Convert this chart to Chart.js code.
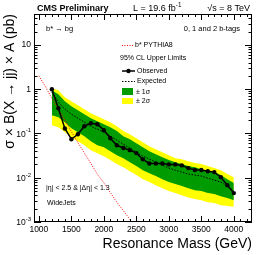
<!DOCTYPE html>
<html>
<head>
<meta charset="utf-8">
<script src="https://cdn.jsdelivr.net/npm/chart.js@4.4.0/dist/chart.umd.min.js"></script>
<style>
  html, body { margin: 0; padding: 0; background: #fff; }
  #wrap { width: 266px; height: 255px; position: relative; }
</style>
</head>
<body>
<div id="wrap"><canvas id="limitChart" width="266" height="255"></canvas></div>
<script>
// resonance masses (GeV)
var masses = [1200, 1300, 1400, 1500, 1600, 1700, 1800, 1900, 2000, 2100, 2200, 2300, 2400, 2500,
  2600, 2700, 2800, 2900, 3000, 3100, 3200, 3300, 3400, 3500, 3600, 3700, 3800, 3900, 4000];

// observed 95% CL limit (pb)
var observed = [1.0, 0.37, 0.13, 0.074, 0.096, 0.146, 0.17, 0.162, 0.119, 0.078, 0.054, 0.047, 0.042, 0.036,
  0.026, 0.021, 0.021, 0.021, 0.020, 0.020, 0.019, 0.0165, 0.0149, 0.0149, 0.014, 0.0134, 0.0103, 0.0068, 0.0045];

// expected limit and bands (pb)
var expected = [0.856, 0.509, 0.354, 0.273, 0.222, 0.180, 0.146, 0.125, 0.107, 0.0869, 0.0706, 0.0573, 0.0466, 0.0378,
  0.0307, 0.0263, 0.0225, 0.0192, 0.0165, 0.0148, 0.0134, 0.0121, 0.0115, 0.0109, 0.0098, 0.0088, 0.0080, 0.0065, 0.0050];
var oneSigmaUp = [0.95, 0.771, 0.536, 0.413, 0.336, 0.273, 0.222, 0.190, 0.162, 0.139, 0.113, 0.0869, 0.0744, 0.0604,
  0.0491, 0.0398, 0.0341, 0.0292, 0.0250, 0.0225, 0.0203, 0.0183, 0.0173, 0.0156, 0.0141, 0.0134, 0.0115, 0.0093, 0.0076];
var oneSigmaDown = [0.259, 0.233, 0.180, 0.132, 0.107, 0.0869, 0.0670, 0.0544, 0.0491, 0.0398, 0.0324, 0.0277, 0.0225, 0.0183,
  0.0148, 0.0127, 0.0109, 0.0093, 0.0080, 0.0072, 0.0065, 0.0058, 0.0052, 0.0050, 0.0045, 0.0043, 0.0038, 0.0035, 0.0031];
var twoSigmaUp = [1.05, 0.95, 0.66, 0.536, 0.435, 0.354, 0.287, 0.246, 0.210, 0.180, 0.146, 0.113, 0.0964, 0.0783,
  0.0636, 0.0517, 0.0442, 0.0378, 0.0324, 0.0277, 0.0263, 0.0237, 0.0214, 0.0203, 0.0183, 0.0165, 0.0148, 0.0121, 0.0103];
var twoSigmaDown = [0.154, 0.139, 0.107, 0.0825, 0.0670, 0.0544, 0.0420, 0.0359, 0.0307, 0.0250, 0.0203, 0.0173, 0.0141, 0.0115,
  0.0093, 0.0080, 0.0068, 0.0058, 0.0050, 0.0045, 0.0040, 0.0036, 0.0033, 0.0031, 0.0028, 0.0027, 0.0024, 0.0023, 0.0022];

// b* PYTHIA8 theory cross section
var theoryMasses = [1000, 1100, 1200, 1300, 1400, 1500, 1600, 1700, 1800, 1900, 2000, 2100, 2200, 2300, 2400, 2500];
var theoryXsec = [2.0, 1.15, 0.62, 0.36, 0.20, 0.11, 0.063, 0.036, 0.021, 0.012, 0.0077, 0.0046, 0.0028, 0.0018, 0.00115, 0.00072];

// axis ticks
var xMajorTicks = [1000, 1500, 2000, 2500, 3000, 3500, 4000];
var yDecades = [-3, -2, -1, 0, 1];

var FONT = '"Liberation Sans", Arial, Helvetica, sans-serif';

function pts(xs, ys) {
    return xs.map(function (x, i) { return { x: x, y: ys[i] }; });
}

function supText(ctx, base, sup, x, y, align, size) {
    ctx.font = size + 'px ' + FONT;
    var wb = ctx.measureText(base).width;
    ctx.font = (size * 0.7) + 'px ' + FONT;
    var ws = ctx.measureText(sup).width;
    var x0 = align === 'right' ? x - wb - ws : x;
    ctx.textAlign = 'left';
    ctx.font = size + 'px ' + FONT;
    ctx.fillText(base, x0, y);
    ctx.font = (size * 0.7) + 'px ' + FONT;
    ctx.fillText(sup, x0 + wb, y - size * 0.45);
}

var rootStyle = {
    id: 'rootStyle',
    afterDraw: function (chart) {
        var ctx = chart.ctx;
        var a = chart.chartArea;
        var xs = chart.scales.x, ys = chart.scales.y;
        ctx.save();
        ctx.strokeStyle = '#000';
        ctx.fillStyle = '#000';
        ctx.lineWidth = 1;

        // frame
        ctx.strokeRect(a.left + 0.5, a.top + 0.5, a.right - a.left - 1, a.bottom - a.top - 1);

        // x ticks (inside, bottom and top)
        ctx.beginPath();
        for (var m = 1000; m <= 4200; m += 100) {
            var px = Math.round(xs.getPixelForValue(m)) + 0.5;
            var len = (m % 500 === 0) ? 6 : 3;
            ctx.moveTo(px, a.bottom); ctx.lineTo(px, a.bottom - len);
            ctx.moveTo(px, a.top); ctx.lineTo(px, a.top + len);
        }
        // y ticks (inside, left and right)
        yDecades.forEach(function (d) {
            for (var k = 1; k <= 9; k++) {
                var v = k * Math.pow(10, d);
                if (v > ys.max || v < ys.min) continue;
                var py = Math.round(ys.getPixelForValue(v)) + 0.5;
                var len = k === 1 ? 7 : 3.5;
                ctx.moveTo(a.left, py); ctx.lineTo(a.left + len, py);
                ctx.moveTo(a.right, py); ctx.lineTo(a.right - len, py);
            }
        });
        ctx.stroke();

        // tick labels
        ctx.textBaseline = 'middle';
        ctx.textAlign = 'center';
        ctx.font = '8.5px ' + FONT;
        xMajorTicks.forEach(function (m) {
            ctx.fillText(String(m), xs.getPixelForValue(m), a.bottom + 8);
        });
        yDecades.forEach(function (d) {
            var py = ys.getPixelForValue(Math.pow(10, d));
            if (d === 0 || d === 1) {
                ctx.font = '8.5px ' + FONT;
                ctx.textAlign = 'right';
                ctx.fillText(d === 0 ? '1' : '10', a.left - 3, py);
            } else {
                supText(ctx, '10', String(d), a.left - 3, py + 1, 'right', 8.5);
            }
        });

        // axis titles
        ctx.textAlign = 'right';
        ctx.textBaseline = 'alphabetic';
        ctx.font = '14px ' + FONT;
        ctx.fillText('Resonance Mass (GeV)', a.right, 248);
        ctx.save();
        ctx.translate(14, a.top);
        ctx.rotate(-Math.PI / 2);
        ctx.textAlign = 'right';
        ctx.fillText('\u03c3 \u00d7 B(X \u2192 jj) \u00d7 A (pb)', 0, 0);
        ctx.restore();

        // header
        ctx.textAlign = 'left';
        ctx.font = 'bold 9px ' + FONT;
        ctx.fillText('CMS Preliminary', 37, 11);
        supText(ctx, 'L = 19.6 fb', '-1', 133, 11, 'left', 9);
        ctx.font = '9px ' + FONT;
        ctx.textAlign = 'right';
        ctx.fillText('\u221as = 8 TeV', 250, 11);

        // labels inside the frame
        ctx.textBaseline = 'middle';
        ctx.font = '7.5px ' + FONT;
        ctx.textAlign = 'left';
        ctx.fillText('b* \u2192 bg', 46, 29);
        ctx.textAlign = 'right';
        ctx.fillText('0, 1 and 2 b-tags', 240, 29);
        ctx.textAlign = 'left';
        ctx.font = '7px ' + FONT;
        ctx.fillText('|\u03b7| < 2.5 & |\u0394\u03b7| < 1.3', 46, 188);
        ctx.fillText('WideJets', 47, 203);

        // legend
        ctx.font = '7px ' + FONT;
        ctx.strokeStyle = 'red';
        ctx.setLineDash([1, 1.5]);
        ctx.beginPath(); ctx.moveTo(122, 45.5); ctx.lineTo(133, 45.5); ctx.stroke();
        ctx.setLineDash([]);
        ctx.fillText('b* PYTHIA8', 135, 45.5);
        ctx.fillText('95% CL Upper Limits', 120, 58);
        ctx.strokeStyle = '#000';
        ctx.lineWidth = 1.5;
        ctx.beginPath(); ctx.moveTo(122, 71); ctx.lineTo(135, 71); ctx.stroke();
        ctx.beginPath(); ctx.arc(128.5, 71, 2.2, 0, Math.PI * 2); ctx.fill();
        ctx.fillText('Observed', 137, 71);
        ctx.lineWidth = 1;
        ctx.setLineDash([1.5, 1.5]);
        ctx.beginPath(); ctx.moveTo(122, 81.5); ctx.lineTo(135, 81.5); ctx.stroke();
        ctx.setLineDash([]);
        ctx.fillText('Expected', 137, 81.5);
        ctx.fillStyle = 'rgb(0,155,0)';
        ctx.fillRect(122, 88, 11, 7);
        ctx.fillStyle = '#ffff00';
        ctx.fillRect(122, 98, 11, 6);
        ctx.fillStyle = '#000';
        ctx.fillText('\u00b1 1\u03c3', 136, 92);
        ctx.fillText('\u00b1 2\u03c3', 136, 101.5);
        ctx.restore();
    }
};

var ctx = document.getElementById('limitChart').getContext('2d');
var limitChart = new Chart(ctx, {
    type: 'line',
    data: {
        datasets: [{
            label: '2 sigma low',
            data: pts(masses, twoSigmaDown),
            borderWidth: 0, pointRadius: 0, fill: false, order: 10
        }, {
            label: '2 sigma high',
            data: pts(masses, twoSigmaUp),
            borderWidth: 0, pointRadius: 0,
            fill: { target: 0 }, backgroundColor: '#ffff00', order: 9
        }, {
            label: '1 sigma low',
            data: pts(masses, oneSigmaDown),
            borderWidth: 0, pointRadius: 0, fill: false, order: 8
        }, {
            label: '1 sigma high',
            data: pts(masses, oneSigmaUp),
            borderWidth: 0, pointRadius: 0,
            fill: { target: 2 }, backgroundColor: 'rgb(0,155,0)', order: 7
        }, {
            label: 'Expected',
            data: pts(masses, expected),
            borderColor: '#000', borderWidth: 1, borderDash: [1.5, 1.5],
            pointRadius: 0, fill: false, order: 6
        }, {
            label: 'b* PYTHIA8',
            data: pts(theoryMasses, theoryXsec),
            borderColor: 'red', borderWidth: 1, borderDash: [1, 1.5],
            pointRadius: 0, fill: false, order: 5
        }, {
            label: 'Observed',
            data: pts(masses, observed),
            borderColor: '#000', borderWidth: 1.5,
            pointRadius: 2.2, pointBackgroundColor: '#000', pointBorderWidth: 0,
            fill: false, order: 4
        }]
    },
    options: {
        responsive: false,
        animation: false,
        layout: { padding: { left: 34, top: 14, right: 14, bottom: 33 } },
        scales: {
            x: { type: 'linear', min: 925, max: 4280, display: false },
            y: { type: 'logarithmic', min: 0.001, max: 50, display: false }
        },
        plugins: {
            legend: { display: false },
            tooltip: { enabled: false }
        }
    },
    plugins: [rootStyle]
});
</script>
</body>
</html>
